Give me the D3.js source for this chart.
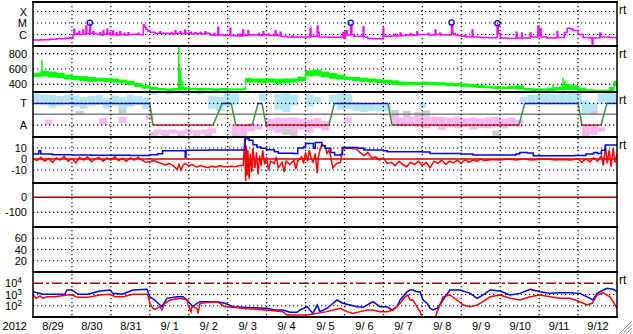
<!DOCTYPE html>
<html>
<head>
<meta charset="utf-8">
<script src="https://cdn.jsdelivr.net/npm/d3@7"></script>
<style>
  body { margin: 0; background: #fff; }
  text { font-family: "Liberation Sans", Arial, sans-serif; }
</style>
</head>
<body>
<svg id="chart" width="633" height="334"></svg>
<script>
/* DATA (times are days since 2012-08-29 00:00 UT) */
const dayLabels = ["8/29", "8/30", "8/31", "9/ 1", "9/ 2", "9/ 3", "9/ 4", "9/ 5",
  "9/ 6", "9/ 7", "9/ 8", "9/ 9", "9/10", "9/11", "9/12"];
const yearLabel = "2012";

// x-ray flux (W/m2)
const xrayTicks = [1e-6, 1e-5, 1e-4];
const xrayLabels = ["C", "M", "X"];
const xrayFlux = [[0, 3.3e-7], [0.2, 3.5e-7], [0.44, 3.8e-7], [0.6, 4.2e-7], [0.82, 4.7e-7], [0.95, 5.3e-7],
  [1.03, 9e-7], [1.05, 2.8e-6], [1.07, 1.0e-6], [1.12, 1.2e-6], [1.18, 1.8e-6], [1.2, 1.0e-6], [1.28, 2.5e-6],
  [1.3, 1.1e-6], [1.36, 5.5e-6], [1.38, 1.2e-6], [1.46, 6.7e-6], [1.48, 1.3e-6], [1.54, 1.8e-6], [1.56, 1.1e-6],
  [1.65, 1.0e-6], [1.72, 1.4e-6], [1.74, 9e-7], [1.8, 2.1e-6], [1.82, 1.05e-6], [1.9, 2.8e-6], [1.92, 1.1e-6],
  [1.98, 1.5e-6], [2.0, 9e-7], [2.05, 2e-6], [2.07, 1.0e-6], [2.14, 1.4e-6], [2.16, 9e-7],
  [2.23, 1.75e-6], [2.25, 1.0e-6], [2.34, 1.3e-6], [2.36, 9e-7], [2.44, 1.4e-6], [2.46, 1.0e-6], [2.6, 1.05e-6],
  [2.7, 1.3e-6], [2.72, 9.5e-7], [2.83, 6.7e-6], [2.87, 4e-6],
  [2.9, 2.8e-6], [2.95, 2.0e-6], [3.01, 1.6e-6], [3.13, 1.3e-6], [3.26, 1.75e-6], [3.28, 1.3e-6], [3.45, 1.2e-6],
  [3.55, 1.5e-6], [3.57, 1.1e-6],
  [3.65, 2.1e-6], [3.67, 1.3e-6], [3.78, 1.75e-6], [3.8, 1.2e-6], [3.9, 2.5e-6], [3.92, 1.3e-6],
  [4.05, 1.6e-6], [4.07, 1.1e-6], [4.16, 1.5e-6],
  [4.18, 1.2e-6], [4.3, 1.5e-6], [4.32, 1.1e-6], [4.42, 1.75e-6], [4.44, 1.3e-6], [4.55, 9e-7], [4.65, 1.2e-6],
  [4.67, 8.5e-7], [4.75, 4.2e-6], [4.77, 9e-7], [4.9, 8e-7],
  [5.06, 3.5e-6], [5.08, 8e-7], [5.2, 7.5e-7], [5.3, 1.1e-6], [5.32, 7.5e-7], [5.39, 2.5e-6], [5.41, 8e-7],
  [5.52, 2.1e-6], [5.54, 9e-7],
  [5.7, 9e-7], [5.8, 1.2e-6], [5.82, 8e-7], [5.91, 1.75e-6], [5.93, 9e-7], [6.05, 1.1e-6], [6.07, 8e-7],
  [6.22, 2.1e-6], [6.24, 8e-7], [6.35, 1.6e-6], [6.37, 7e-7],
  [6.52, 6e-7], [6.65, 7.5e-7], [6.67, 5.8e-7], [6.8, 6e-7], [7.12, 3.5e-6], [7.14, 7e-7], [7.3, 5.5e-6],
  [7.32, 1.6e-6], [7.35, 6e-7],
  [7.6, 5.7e-7], [7.9, 6e-7], [7.96, 1.5e-6], [7.99, 5e-7], [8.03, 2e-6], [8.07, 9e-7], [8.16, 6.7e-6],
  [8.19, 1.0e-6], [8.25, 7e-7], [8.48, 4.8e-6], [8.5, 6e-7], [8.6, 4.5e-7], [8.8, 4.3e-7], [8.99, 3.5e-6],
  [9.01, 7e-7], [9.2, 7.5e-7], [9.3, 1.1e-6], [9.32, 7.5e-7], [9.43, 1.35e-6], [9.45, 8e-7], [9.6, 9e-7],
  [9.7, 1.2e-6], [9.72, 8.5e-7], [9.86, 1.75e-6], [9.88, 1.0e-6],
  [10.05, 1.0e-6], [10.15, 1.3e-6], [10.17, 9e-7], [10.33, 2.5e-6], [10.35, 1.0e-6], [10.45, 1.3e-6],
  [10.47, 9e-7], [10.6, 9e-7], [10.75, 6.7e-6], [10.78, 1.2e-6],
  [10.85, 8e-7], [11.0, 7e-7], [11.1, 9e-7], [11.12, 6.5e-7], [11.28, 2.5e-6], [11.3, 6e-7], [11.5, 5.5e-7],
  [11.7, 5.2e-7], [11.92, 6.7e-6],
  [11.95, 1.2e-6], [12.0, 5e-7], [12.2, 4.5e-7], [12.41, 1.6e-6], [12.43, 5e-7], [12.55, 1.3e-6], [12.57, 5e-7],
  [12.77, 1.35e-6], [12.79, 6e-7], [12.97, 5.5e-6], [12.99, 8e-7], [13.02, 3.2e-6], [13.05, 6e-7], [13.2, 5e-7],
  [13.46, 1.75e-6], [13.48, 5.5e-7], [13.65, 1.5e-6], [13.72, 3.5e-6], [13.8, 3.0e-6], [13.87, 2.2e-6],
  [14.0, 1.0e-6], [14.13, 5.5e-7], [14.3, 5e-7], [14.36, 1.2e-7], [14.38, 5e-7], [14.56, 1.35e-6],
  [14.58, 6e-7], [14.8, 5.5e-7], [15, 6e-7]];
const flareMarks = [[1.46, 1.07e-5], [8.16, 1.07e-5], [10.75, 1.1e-5], [11.93, 9.7e-6]];

// solar wind speed (km/s): [t, low, high]
const speedTicks = [400, 600, 800];
const speedBand = [[0, 500, 545], [0.2, 510, 570], [0.4, 495, 560], [0.6, 490, 545], [0.8, 470, 520],
  [1.0, 460, 505], [1.2, 450, 500], [1.4, 440, 490], [1.6, 445, 480], [1.8, 440, 475], [2.0, 430, 470],
  [2.2, 420, 455], [2.4, 400, 440], [2.6, 370, 410], [2.8, 350, 380], [3.0, 335, 360], [3.2, 325, 345],
  [3.4, 320, 340], [3.6, 325, 345], [3.8, 330, 355], [4.0, 330, 350], [4.2, 325, 345], [4.4, 325, 345],
  [4.6, 320, 340], [4.8, 325, 345], [5.0, 325, 340], [5.2, 325, 340], [5.4, 330, 345], [5.46, 430, 475],
  [5.6, 430, 470], [5.8, 420, 470], [6.0, 430, 470], [6.2, 410, 465], [6.4, 420, 470], [6.6, 430, 470],
  [6.8, 450, 495], [7.0, 510, 575], [7.2, 520, 585], [7.4, 500, 560], [7.6, 480, 540], [7.8, 470, 520],
  [8.0, 460, 495], [8.2, 450, 490], [8.4, 440, 480], [8.6, 430, 470], [8.8, 425, 460], [9.0, 415, 455],
  [9.2, 400, 445], [9.4, 395, 430], [9.6, 395, 425], [9.8, 395, 425], [10.0, 400, 430], [10.2, 395, 425],
  [10.4, 390, 420], [10.6, 385, 415], [10.8, 380, 410], [11.0, 375, 405], [11.2, 370, 400], [11.4, 360, 385],
  [11.6, 355, 375], [11.8, 345, 370], [12.0, 345, 365], [12.2, 345, 375], [12.4, 340, 380], [12.6, 325, 345],
  [12.8, 320, 340], [13.0, 320, 340], [13.2, 320, 350], [13.4, 325, 360], [13.6, 330, 400], [13.8, 330, 380],
  [14.0, 320, 350], [14.2, 310, 330], [14.4, 310, 325], [14.6, 310, 325], [14.8, 320, 360], [14.92, 380, 440],
  [15, 380, 440]];
const speedSpikes = [[0.23, 540, 720], [3.74, 350, 915], [3.76, 350, 680], [3.78, 350, 600], [3.8, 350, 520],
  [3.85, 350, 440], [13.36, 340, 400], [13.61, 350, 485], [13.66, 350, 450]];

// T / A state (+1 = T, -1 = A) and scattered samples [t, low, high]
const taTicks = [-1, 1];
const taLabels = ["A", "T"];
const taStates = [[0, 1], [3.0, 1], [3.08, -1], [4.62, -1], [4.86, 1], [5.09, 1], [5.21, -1], [5.63, -1],
  [5.78, 1], [5.88, 1], [5.99, -1], [7.60, -1], [7.74, 1], [9.12, 1], [9.22, -1], [12.48, -1], [12.63, 1],
  [14.0, 1], [14.10, -1], [14.59, -1], [14.74, 1], [15, 1]];
const taBin = 0.2;
const taLightBlue = [[0.0, 1.0, 1.9], [0.2, 0.9, 1.85], [0.4, 0.6, 1.8], [0.6, 0.8, 1.7], [0.8, 0.9, 1.8],
  [1.0, 0.7, 1.75], [1.2, 0.5, 1.6], [1.4, 0.8, 1.7], [1.6, 0.9, 1.8], [1.8, 0.6, 1.5], [2.0, 0.8, 1.75],
  [2.2, 0.4, 1.6], [2.4, 0.7, 1.8], [2.6, 0.9, 1.7], [2.8, 0.5, 1.5], [3.0, 1.8, 2.0], [3.4, 1.85, 2.0],
  [3.8, 1.8, 2.0], [4.2, 1.85, 2.0], [4.5, 0.5, 1.7], [4.7, 0.3, 1.6], [4.9, 0.7, 2.0], [5.1, 0.9, 1.9],
  [5.8, 1.2, 1.9], [6.2, 0.4, 1.9], [6.4, 0.2, 1.95], [6.6, 0.8, 1.8], [7.0, 0.7, 1.8], [7.2, 1.0, 1.6],
  [7.6, 1.1, 1.8], [7.8, 0.4, 1.95], [8.0, 0.5, 1.9], [8.2, 0.3, 1.1], [8.4, 0.2, 1.0], [8.6, 0.3, 1.0],
  [8.8, 0.25, 1.05], [9.0, 0.3, 1.0], [9.9, 0.6, 1.0], [12.5, 0.9, 1.6], [12.7, 0.9, 1.8], [12.9, 0.95, 1.85],
  [13.1, 0.9, 1.9], [13.3, 0.95, 1.85], [13.5, 0.9, 1.95], [13.7, 0.95, 2.0], [13.9, 0.9, 2.0],
  [14.1, 0.0, 1.3], [14.3, 0.3, 1.0], [14.5, 1.0, 1.9], [14.7, 1.0, 2.0], [14.9, 1.0, 1.9]];
const taPink = [[0.3, -1.0, -0.5], [1.7, -1.0, -0.35], [2.2, -0.8, -0.25], [2.9, -0.5, -0.1],
  [3.1, -1.9, -1.4], [3.3, -1.85, -1.45], [3.5, -1.8, -1.4], [3.7, -1.9, -1.5], [3.9, -1.85, -1.35],
  [4.1, -1.8, -1.45], [4.3, -1.85, -1.4], [4.5, -1.75, -1.3], [5.1, -1.8, -0.9], [5.3, -1.9, -1.0],
  [5.5, -1.6, -0.8], [5.7, -1.4, -0.9], [6.0, -1.5, -0.4], [6.2, -1.7, -0.3], [6.4, -1.3, -0.35],
  [6.6, -1.6, -0.3], [6.8, -1.4, -0.4], [7.0, -1.7, -0.5], [7.2, -1.3, -0.35], [7.4, -1.5, -0.6],
  [8.0, -0.8, -0.3], [9.2, -1.0, -0.1], [9.4, -1.1, -0.3], [9.6, -0.9, -0.2], [9.8, -1.2, -0.1],
  [10.0, -1.3, -0.3], [10.2, -1.1, -0.2], [10.4, -1.45, -0.25], [10.6, -1.2, -0.3], [10.8, -1.3, -0.2],
  [11.0, -1.2, -0.35], [11.2, -1.4, -0.3], [11.4, -1.25, -0.4], [11.6, -1.3, -0.3], [11.8, -1.2, -0.25],
  [12.0, -1.3, -0.4], [12.2, -1.1, -0.3], [12.4, -1.2, -0.5], [14.1, -2.0, -1.0], [14.3, -1.9, -1.1],
  [14.5, -1.6, -1.2]];
const taGray = [[1.1, 0.0, 0.3], [2.2, 0.1, 0.5], [3.0, -2.1, -1.6], [3.3, -2.05, -1.7], [3.7, -2.1, -1.75],
  [4.1, -2.05, -1.7], [4.4, -2.1, -1.6], [5.1, -2.1, -1.6], [5.3, -2.0, -1.7], [6.4, -1.9, -1.3],
  [6.6, -2.0, -1.5], [9.2, -0.5, 0.4], [9.5, -0.3, 0.3], [9.8, -0.4, 0.2], [10.0, -0.3, 0.35],
  [11.8, -2.0, -1.5], [14.1, -2.1, -1.8], [14.3, 0.0, 0.5]];

// magnetic field (nT)
const bTicks = [-10, 0, 10];
const btTotal = [[0, 4.5], [0.15, 7.5], [0.2, 4.5], [0.5, 3.8], [1.0, 3.6], [1.5, 3.4], [2.0, 3.5], [2.5, 3.2],
  [3.0, 3.8], [3.2, 4.8], [3.33, 7.5], [3.9, 7.5], [3.91, 1.5], [3.93, 8], [4.5, 8.2], [5.0, 8.2], [5.4, 8.5],
  [5.45, 18.5], [5.55, 17], [5.65, 13], [5.75, 11], [5.85, 9.7], [6.0, 8.5], [6.2, 6.6], [6.3, 5.2], [6.7, 5.0],
  [6.8, 10], [6.95, 11], [7.0, 14], [7.15, 14], [7.2, 9.7], [7.25, 15], [7.38, 15], [7.42, 12], [7.5, 9.7],
  [7.65, 6], [7.75, 3.6], [7.9, 4], [7.95, 10.5], [8.2, 10.5], [8.35, 9.7], [8.5, 8.2], [9.0, 7.5], [9.1, 6.6],
  [10.0, 6.4], [10.2, 5], [11.0, 4.5], [11.3, 3.6], [12.0, 3.6], [12.4, 4.5], [12.5, 6.0], [12.7, 5.5],
  [12.85, 3], [13.5, 3], [13.9, 3.2], [14.2, 4.5], [14.4, 6], [14.5, 5], [14.6, 8], [14.7, 12.7], [15, 12.7]];
const bzComp = [[0, 0.5], [0.1, -1.5], [0.2, 1.5], [0.3, -2], [0.4, 0.5], [0.5, -3], [0.6, 1], [0.7, -1],
  [0.8, 2.5], [0.9, -2], [1.0, 0.5], [1.1, -3.5], [1.2, 1.5], [1.3, -1], [1.4, 2], [1.5, -2.5], [1.6, 0],
  [1.7, 1.5], [1.8, -2], [1.9, 1], [2.0, -1], [2.1, 2], [2.2, -1.5], [2.3, 0.5], [2.4, -2], [2.5, 1], [2.6, -1],
  [2.7, 1.5], [2.8, -1], [2.9, -3], [3.0, -2.4], [3.1, -1.5], [3.2, -3], [3.3, -4], [3.4, -5.5], [3.5, -4],
  [3.6, -6], [3.7, -9.5], [3.75, -5], [3.8, -10], [3.85, -6], [3.9, -4], [4.0, -6], [4.1, -5], [4.2, -7.5],
  [4.3, -6], [4.4, -7], [4.5, -8], [4.6, -6.5], [4.7, -7.5], [4.8, -6], [4.9, -7], [5.0, -7], [5.1, -6.5],
  [5.2, -7], [5.3, -6], [5.4, -6], [5.44, 19], [5.46, -20], [5.48, 12], [5.5, -15], [5.52, 8], [5.55, -18],
  [5.58, 5], [5.62, -12], [5.65, 10], [5.7, -8], [5.74, 6], [5.78, -14], [5.82, 3], [5.86, -6], [5.9, 8],
  [5.95, -5], [6.0, 2], [6.05, -10], [6.1, -2], [6.2, -4], [6.25, 2], [6.3, -8], [6.4, -3], [6.45, -12],
  [6.5, -2], [6.6, -5], [6.7, -1], [6.75, -9], [6.8, -2], [6.9, 2], [6.95, -4], [7.0, 6], [7.05, -2], [7.1, 8],
  [7.15, 0], [7.2, -3], [7.25, 5], [7.3, -13], [7.33, 2], [7.38, 10], [7.42, 13], [7.5, 12], [7.55, 5],
  [7.6, 8], [7.65, 2], [7.7, -8], [7.8, -4], [7.9, -3], [7.95, 9], [8.1, 10], [8.3, 9], [8.4, 6], [8.5, 3],
  [8.6, 6], [8.7, 1], [8.8, 2], [8.9, -1], [9.0, 1], [9.1, -4], [9.2, -3], [9.3, -6], [9.4, -2], [9.5, -5],
  [9.6, -7], [9.7, -3], [9.8, -5], [9.9, -2], [10.0, -6], [10.1, -3], [10.2, -8], [10.3, -2], [10.4, -4],
  [10.5, -1], [10.6, -5], [10.7, -2], [10.8, -3.5], [10.9, -1], [11.0, -4], [11.1, -0.5], [11.2, -3],
  [11.3, -1], [11.4, -2], [11.5, 0], [11.6, -1.5], [11.8, -0.5], [12.0, -1], [12.2, 0], [12.4, -1], [12.6, 0],
  [12.8, -1], [13.0, -0.5], [13.2, 0], [13.4, -1], [13.6, -0.5], [13.8, -1], [14.0, 0], [14.1, -3], [14.2, 0],
  [14.3, -2.5], [14.4, 1], [14.5, -2], [14.6, 3], [14.65, -6], [14.7, 12], [14.75, -4], [14.8, 8],
  [14.85, -7], [14.9, 10], [14.95, -3], [15, 5]];

// Dst (nT) and Kp-like panel
const dstTicks = [-100, 0];
const kpTicks = [20, 40, 60];

// particle flux (log)
const pTicks = [1e2, 1e3, 1e4];
const pExponents = ["2", "3", "4"];
const fluxBlue = [[0, 1780], [0.26, 1040], [0.44, 1040], [0.82, 1100], [0.87, 2510], [1.0, 2510], [1.16, 1040],
  [1.41, 1040], [1.72, 2040], [1.98, 2510], [2.05, 1260], [2.29, 1040], [2.57, 2510], [2.93, 2900], [3.0, 630],
  [3.13, 324], [3.26, 117], [3.31, 83], [3.44, 457], [3.7, 630], [3.85, 630], [3.96, 324], [4.03, 166],
  [4.11, 83], [4.21, 166], [4.29, 229], [4.73, 229], [4.93, 166], [5.14, 83], [5.5, 70], [6.01, 59], [6.2, 42],
  [6.42, 42], [6.6, 26], [6.78, 26], [6.86, 42], [7.04, 83], [7.19, 21], [7.3, 117], [7.37, 30], [7.55, 59],
  [7.71, 166], [7.81, 324], [7.96, 166], [8.14, 117], [8.32, 83], [8.48, 73], [8.66, 166], [8.73, 229],
  [8.91, 83], [9.09, 83], [9.22, 42], [9.35, 83], [9.43, 324], [9.61, 1780], [9.68, 2510], [9.76, 2510],
  [9.86, 1780], [9.94, 1780], [10.02, 324], [10.12, 166], [10.2, 59], [10.27, 42], [10.38, 59], [10.45, 117],
  [10.53, 324], [10.71, 2510], [10.97, 2510], [11.23, 1260], [11.41, 457], [11.56, 910], [11.74, 2510],
  [12.0, 2040], [12.25, 910], [12.51, 1260], [12.77, 2900], [13.02, 1780], [13.28, 1260], [13.54, 1400],
  [13.79, 1400], [14.05, 1260], [14.31, 457], [14.38, 324], [14.49, 1260], [14.74, 3550], [14.9, 2900],
  [15, 1780]];
const fluxRed = [[0, 910], [0.08, 457], [0.18, 740], [0.26, 457], [0.36, 630], [0.57, 630], [0.87, 910], [1.0, 910],
  [1.16, 560], [1.41, 560], [1.72, 910], [1.98, 1040], [2.11, 630], [2.31, 630], [2.57, 1040], [2.93, 1040],
  [2.95, 910], [3.0, 166], [3.08, 59], [3.13, 48], [3.26, 83], [3.31, 42], [3.39, 166], [3.52, 324], [3.78, 457],
  [3.96, 324], [3.98, 117], [4.06, 30], [4.08, 83], [4.21, 59], [4.24, 21], [4.29, 166], [4.5, 190], [4.73, 229],
  [4.93, 83], [5.14, 73], [5.5, 55], [6.01, 42], [6.42, 30], [6.52, 15], [6.86, 15], [7.04, 15], [7.3, 21],
  [7.55, 30], [7.71, 42], [7.89, 59], [8.07, 30], [8.22, 21], [8.4, 30], [8.58, 42], [8.73, 42], [8.91, 30],
  [9.09, 30], [9.25, 42], [9.43, 166], [9.56, 630], [9.63, 910], [9.68, 324], [9.76, 324], [9.86, 83],
  [9.94, 30], [9.99, 10.6], [10.05, 6], [10.33, 6], [10.38, 30], [10.45, 117], [10.53, 630], [10.71, 910],
  [10.89, 324], [11.05, 117], [11.23, 83], [11.41, 117], [11.56, 229], [11.74, 630], [12.0, 910], [12.25, 457],
  [12.51, 324], [12.77, 630], [13.02, 910], [13.28, 630], [13.54, 457], [13.79, 457], [14.05, 229],
  [14.23, 117], [14.36, 166], [14.49, 910], [14.64, 1400], [14.82, 630], [14.9, 229], [15, 59]];
const fluxThreshold = 1e4;

/* LAYOUT */
const left = 33, right = 617;
const panelEdges = [2, 46, 92, 137, 183, 227, 272, 317];
const FONT = "'Liberation Sans', Arial, sans-serif";

const svg = d3.select("#chart");
const start = new Date(Date.UTC(2012, 7, 29));
const day = t => new Date(start.getTime() + t * 864e5);

const x = d3.scaleUtc().domain([day(0), day(15)]).range([left, right]);

const yX = d3.scaleLog().domain([1e-7, 6.7e-4]).range([46, 2]);
const ySpeed = d3.scaleLinear().domain([300, 900]).range([92, 46]);
const yTA = d3.scaleLinear().domain([-2.1, 2.06]).range([137, 92]);
const yB = d3.scaleLinear().domain([-21.8, 20]).range([183, 137]);
const yDst = d3.scaleLinear().domain([-198, 95]).range([227, 183]);
const yKp = d3.scaleLinear().domain([0, 80]).range([272, 227]);
const yP = d3.scaleLog().domain([10, 1e5]).range([317, 272]);

// clip paths, one per panel
const defs = svg.append("defs");
panelEdges.slice(0, -1).forEach((top, i) => {
  defs.append("clipPath").attr("id", "clip" + i)
    .append("rect")
    .attr("x", left).attr("y", top)
    .attr("width", right - left).attr("height", panelEdges[i + 1] - top);
});
const panel = i => svg.append("g").attr("clip-path", `url(#clip${i})`);

/* GRID */
function hDots(scale, values) {
  svg.append("g").selectAll("line").data(values).join("line")
    .attr("x1", left).attr("x2", right)
    .attr("y1", d => scale(d)).attr("y2", d => scale(d))
    .attr("stroke", "#000").attr("stroke-width", 1.2)
    .attr("stroke-dasharray", "1.2,2.8");
}

/* PANEL 3 scatter (drawn under grid) */
const pTA = panel(2);
[[taGray, "#cdcdcd"], [taPink, "#f7b9f1"], [taLightBlue, "#b3e6f6"]].forEach(([rows, col]) => {
  pTA.append("g").selectAll("rect").data(rows).join("rect")
    .attr("x", d => x(day(d[0])))
    .attr("width", d => x(day(d[0] + taBin)) - x(day(d[0])))
    .attr("y", d => yTA(d[2]))
    .attr("height", d => yTA(d[1]) - yTA(d[2]))
    .attr("fill", col);
});

// vertical day lines
svg.append("g").selectAll("line").data(d3.range(1, 15)).join("line")
  .attr("x1", d => x(day(d))).attr("x2", d => x(day(d)))
  .attr("y1", panelEdges[0]).attr("y2", panelEdges[7])
  .attr("stroke", "#000").attr("stroke-width", 1.2)
  .attr("stroke-dasharray", "1.2,2.8");

hDots(yX, xrayTicks);
hDots(ySpeed, speedTicks);
hDots(yTA, taTicks);
hDots(yB, [-10, 10]);
hDots(yDst, [-100]);
hDots(yKp, kpTicks);
hDots(yP, [1e2, 1e3]);

/* PANEL 1: x-ray */
const p1 = panel(0);
p1.append("path").datum(xrayFlux)
  .attr("fill", "none").attr("stroke", "#ff00ff").attr("stroke-width", 1.5)
  .attr("d", d3.line().curve(d3.curveStepAfter).x(d => x(day(d[0]))).y(d => yX(d[1])));
p1.selectAll("circle").data(flareMarks).join("circle")
  .attr("cx", d => x(day(d[0]))).attr("cy", d => yX(d[1])).attr("r", 2.6)
  .attr("fill", "none").attr("stroke", "#0000ff").attr("stroke-width", 1.2);

/* PANEL 2: speed */
const p2 = panel(1);
p2.append("path").datum(speedBand)
  .attr("fill", "#00ff00").attr("stroke", "#00ff00").attr("stroke-width", 1)
  .attr("d", d3.area().curve(d3.curveStepAfter)
    .x(d => x(day(d[0]))).y0(d => ySpeed(d[1])).y1(d => ySpeed(d[2])));
p2.selectAll("line").data(speedSpikes).join("line")
  .attr("x1", d => x(day(d[0]))).attr("x2", d => x(day(d[0])))
  .attr("y1", d => ySpeed(d[1])).attr("y2", d => ySpeed(d[2]))
  .attr("stroke", "#00ff00").attr("stroke-width", 1.5);

/* PANEL 3: T/A state line */
pTA.append("line").attr("x1", left).attr("x2", right)
  .attr("y1", yTA(0)).attr("y2", yTA(0))
  .attr("stroke", "#808080").attr("stroke-width", 1.6);
const taSegs = d3.pairs(taStates);
pTA.append("g").selectAll("line").data(taSegs).join("line")
  .attr("x1", d => x(day(d[0][0]))).attr("y1", d => yTA(d[0][1]))
  .attr("x2", d => x(day(d[1][0]))).attr("y2", d => yTA(d[1][1]))
  .attr("stroke", d => d[0][1] !== d[1][1] ? "#3f8f3f" : (d[0][1] > 0 ? "#2020ff" : "#ff2020"))
  .attr("stroke-width", 1.5);

/* PANEL 4: IMF */
const p4 = panel(3);
p4.append("line").attr("x1", left).attr("x2", right)
  .attr("y1", yB(0)).attr("y2", yB(0))
  .attr("stroke", "#cc0000").attr("stroke-width", 1.5);
p4.append("path").datum(bzComp)
  .attr("fill", "none").attr("stroke", "#ff0000").attr("stroke-width", 1.5)
  .attr("d", d3.line().x(d => x(day(d[0]))).y(d => yB(d[1])));
p4.append("path").datum(btTotal)
  .attr("fill", "none").attr("stroke", "#0000ff").attr("stroke-width", 1.5)
  .attr("d", d3.line().curve(d3.curveStepAfter).x(d => x(day(d[0]))).y(d => yB(d[1])));

/* PANEL 5: Dst reference */
panel(4).append("line").attr("x1", left).attr("x2", right)
  .attr("y1", yDst(0)).attr("y2", yDst(0))
  .attr("stroke", "#a00000").attr("stroke-width", 1.5);

/* PANEL 7: flux */
const p7 = panel(6);
p7.append("line").attr("x1", left).attr("x2", right)
  .attr("y1", yP(fluxThreshold)).attr("y2", yP(fluxThreshold))
  .attr("stroke", "#b00000").attr("stroke-width", 1.5)
  .attr("stroke-dasharray", "10,3,3,3");
const fluxLine = d3.line().x(d => x(day(d[0]))).y(d => yP(d[1]));
p7.append("path").datum(fluxBlue)
  .attr("fill", "none").attr("stroke", "#0000ff").attr("stroke-width", 1.5).attr("d", fluxLine);
p7.append("path").datum(fluxRed)
  .attr("fill", "none").attr("stroke", "#ff0000").attr("stroke-width", 1.5).attr("d", fluxLine);

/* FRAME */
svg.append("g").selectAll("line").data(panelEdges).join("line")
  .attr("x1", left - 1).attr("x2", right + 1)
  .attr("y1", d => d).attr("y2", d => d)
  .attr("stroke", "#000").attr("stroke-width", 2);
[left, right].forEach(xx => {
  svg.append("line").attr("x1", xx).attr("x2", xx)
    .attr("y1", panelEdges[0]).attr("y2", panelEdges[7])
    .attr("stroke", "#000").attr("stroke-width", 1.5);
});

/* AXES */
function leftAxis(scale, values, fmt) {
  const g = svg.append("g").attr("transform", "translate(30,0)")
    .call(d3.axisLeft(scale).tickValues(values).tickFormat(fmt).tickSize(0).tickPadding(3));
  g.select(".domain").remove();
  g.attr("font-size", 11).attr("font-family", FONT);
  return g;
}
leftAxis(yX, xrayTicks, (d, i) => xrayLabels[i]);
leftAxis(ySpeed, speedTicks, d => d);
leftAxis(yTA, taTicks, (d, i) => taLabels[i]);
leftAxis(yB, bTicks, d => d);
leftAxis(yDst, dstTicks, d => d);
leftAxis(yKp, kpTicks, d => d);
const gP = svg.append("g").attr("transform", "translate(22,0)")
  .call(d3.axisLeft(yP).tickValues(pTicks).tickFormat(() => "10").tickSize(0).tickPadding(0));
gP.select(".domain").remove();
gP.attr("font-size", 11).attr("font-family", FONT);
gP.selectAll(".tick text").append("tspan")
  .attr("dy", "-0.45em").attr("font-size", 8.5)
  .text((d, i) => pExponents[i]);

const gx = svg.append("g").attr("transform", `translate(0,${panelEdges[7]})`)
  .call(d3.axisBottom(x).tickValues(d3.range(15).map(i => day(i + 0.5)))
    .tickFormat((d, i) => dayLabels[i]).tickSize(0).tickPadding(5));
gx.select(".domain").remove();
gx.attr("font-size", 11).attr("font-family", FONT);
gx.selectAll(".tick text").attr("xml:space", "preserve").style("white-space", "pre");

svg.append("text").attr("x", 27).attr("y", panelEdges[7] + 5).attr("dy", "0.71em")
  .attr("text-anchor", "end").attr("font-size", 11).attr("font-family", FONT)
  .text(yearLabel);

// "rt" tags on the right
[0, 1, 2, 3, 6].forEach(i => {
  svg.append("text").attr("x", 619).attr("y", panelEdges[i] + 11.8)
    .attr("font-size", 12).attr("font-family", FONT).text("rt");
});

// window resize grip
svg.append("g").selectAll("line").data([0, 1, 2, 3]).join("line")
  .attr("x1", d => 620 + d * 3.5).attr("y1", 333)
  .attr("x2", 632).attr("y2", d => 321 + d * 3.5)
  .attr("stroke", "#909090").attr("stroke-width", 1);
</script>
</body>
</html>
